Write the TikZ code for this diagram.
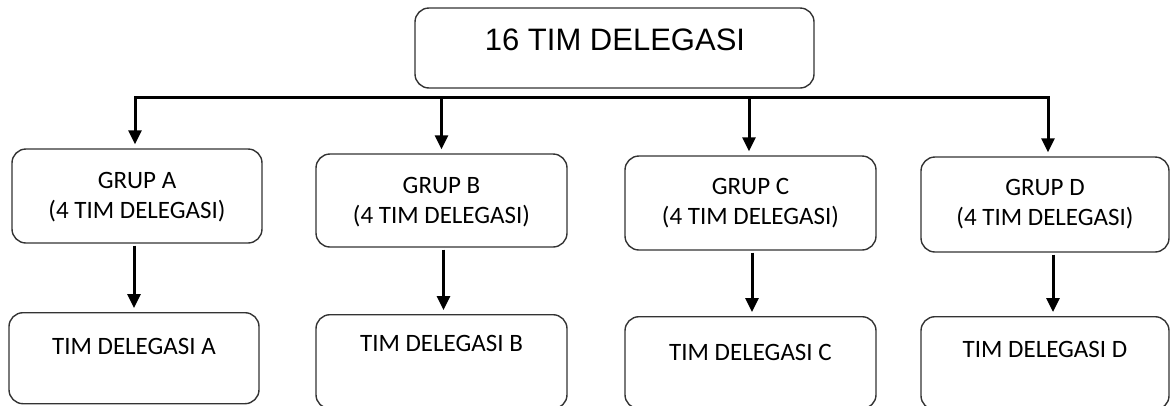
\documentclass[tikz,border=0pt]{standalone}
\usepackage{fontspec}
\setmainfont{Carlito}
\newfontfamily\arialfont{Liberation Sans}
\usetikzlibrary{arrows.meta}
\begin{document}
\begin{tikzpicture}[x=1pt,y=-1pt,
  box/.style={draw=black!80, line width=1.4pt, rounded corners=14pt, inner sep=0pt},
  lbl/.style={inner sep=0pt, text=black, font=\fontsize{25}{30}\selectfont, align=center},
  conn/.style={line width=3pt, black},
  arr/.style={conn, -{Triangle[width=13pt,length=14pt]}, shorten >=4pt}]
\clip (0,0) rectangle (1170,405);
% top
\node[box, minimum width=399pt, minimum height=80pt] (top) at (614.5,48) {};
\node[inner sep=0pt, text=black, font=\arialfont\fontsize{31}{36}\selectfont] (topt) at (615,40) {16 TIM DELEGASI};
% group boxes
\node[box, minimum width=250pt, minimum height=94pt] (ga) at (137,196) {};
\node[box, minimum width=251pt, minimum height=93pt] (gb) at (441.5,200.5) {};
\node[box, minimum width=251pt, minimum height=94pt] (gc) at (750.5,203) {};
\node[box, minimum width=248pt, minimum height=95pt] (gd) at (1045,204.5) {};
\node[lbl] (gat) at (137,197.5) {GRUP A\\(4 TIM DELEGASI)};
\node[lbl] (gbt) at (441.5,202) {GRUP B\\(4 TIM DELEGASI)};
\node[lbl] (gct) at (750.5,203.5) {GRUP C\\(4 TIM DELEGASI)};
\node[lbl] (gdt) at (1045,204.5) {GRUP D\\(4 TIM DELEGASI)};
% team boxes
\node[box, minimum width=250pt, minimum height=91pt, anchor=north] (ta) at (134,312) {};
\node[box, minimum width=251pt, minimum height=94pt, anchor=north] (tb) at (441.5,314) {};
\node[box, minimum width=251pt, minimum height=92pt, anchor=north] (tc) at (750.5,316) {};
\node[box, minimum width=248pt, minimum height=93pt, anchor=north] (td) at (1045,316) {};
\node[lbl] (tat) at (134,346) {TIM DELEGASI A};
\node[lbl] (tbt) at (441.5,343) {TIM DELEGASI B};
\node[lbl] (tct) at (750.5,352) {TIM DELEGASI C};
\node[lbl] (tdt) at (1045,349) {TIM DELEGASI D};
% bar
\coordinate (barL) at (135,97);
\coordinate (barR) at (1048,97);
\draw[conn, line cap=rect] (barL) -- (barR);
\draw[arr] (barL) -- (barL |- ga.north);
\draw[arr] (gb.north |- barL) -- (gb.north);
\draw[arr] ([xshift=-1.5pt]gc.north |- barL) -- ([xshift=-1.5pt]gc.north);
\draw[arr] (barR) -- (barR |- gd.north);
% lower arrows
\draw[arr, shorten <=2pt] ([xshift=-3pt]ga.south) -- ([xshift=-3pt]ga.south |- ta.north);
\draw[arr, shorten <=2pt] ([xshift=2pt]gb.south) -- ([xshift=2pt]gb.south |- tb.north);
\draw[arr, shorten <=2pt] ([xshift=1.5pt]gc.south) -- ([xshift=1.5pt]gc.south |- tc.north);
\draw[arr, shorten <=2pt] ([xshift=8pt]gd.south) -- ([xshift=8pt]gd.south |- td.north);
\end{tikzpicture}
\end{document}
